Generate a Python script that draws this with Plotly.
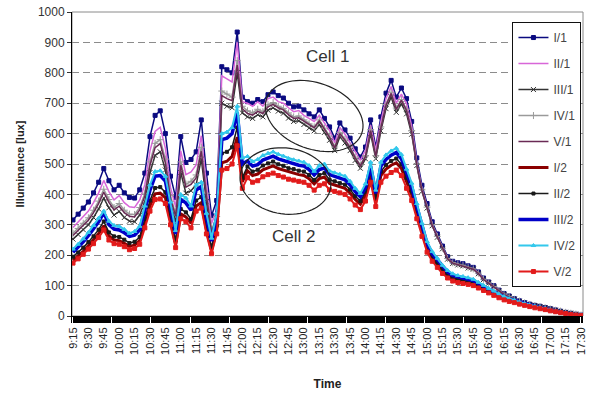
import math
import plotly.graph_objects as go

# ---- time axis: minutes after midnight, 5-minute samples 9:15 .. 17:30
MINUTES = list(range(555, 1051, 5))
TICK_LABELS = ["9:15", "9:30", "9:45", "10:00", "10:15", "10:30", "10:45", "11:00",
               "11:15", "11:30", "11:45", "12:00", "12:15", "12:30", "12:45", "13:00",
               "13:15", "13:30", "13:45", "14:00", "14:15", "14:30", "14:45", "15:00",
               "15:15", "15:30", "15:45", "16:00", "16:15", "16:30", "16:45", "17:00",
               "17:15", "17:30"]
TICK_VALS = [555 + 15 * i for i in range(len(TICK_LABELS))]

# ---- illuminance [lux]
I_1 = [316, 335, 355, 375, 405, 440, 485, 445, 415, 430, 405, 390, 388, 415, 470, 590, 660, 675, 600, 460,
       390, 590, 505, 515, 540, 645, 470, 330, 380, 820, 810, 800, 934, 720, 705, 700, 712, 705, 728, 737,
       725, 717, 700, 688, 690, 678, 665, 655, 678, 650, 622, 585, 635, 612, 585, 550, 523, 556, 645, 556,
       655, 733, 775, 720, 750, 715, 640, 520, 430, 370, 310, 270, 230, 195, 180, 175, 172, 165, 160, 145,
       125, 112, 100, 85, 74, 66, 57, 50, 44, 39, 35, 32, 28, 24, 20, 16, 12, 9, 6, 3]
II_1 = [291, 308, 327, 345, 373, 405, 446, 409, 382, 396, 373, 359, 357, 382, 432, 543, 607, 621, 552, 423,
        359, 543, 465, 474, 497, 593, 432, 304, 350, 790, 780, 770, 900, 705, 700, 690, 705, 690, 715, 720,
        705, 700, 685, 672, 676, 660, 650, 640, 660, 635, 610, 570, 620, 598, 570, 538, 512, 545, 628, 545,
        640, 715, 755, 700, 730, 698, 625, 505, 418, 360, 302, 263, 224, 190, 176, 171, 168, 161, 156, 141,
        122, 109, 97, 83, 72, 64, 55, 48, 43, 38, 34, 31, 27, 23, 19, 15, 12, 9, 6, 3]
III_1 = [253, 268, 284, 300, 324, 352, 388, 356, 332, 344, 324, 312, 310, 332, 376, 472, 528, 540, 480, 368,
         312, 472, 404, 412, 432, 516, 376, 264, 304, 700, 690, 685, 800, 668, 655, 650, 662, 655, 677, 685,
         674, 667, 651, 640, 642, 630, 618, 609, 630, 604, 578, 544, 590, 569, 544, 512, 486, 517, 600, 517,
         609, 682, 720, 670, 698, 665, 598, 495, 410, 355, 297, 259, 221, 187, 173, 168, 165, 158, 154, 139,
         120, 108, 96, 82, 71, 63, 55, 48, 42, 37, 34, 31, 27, 23, 19, 15, 12, 9, 6, 3]
IV_1 = [272, 288, 305, 323, 348, 378, 417, 383, 357, 370, 348, 335, 334, 357, 404, 507, 568, 580, 516, 396,
        335, 507, 434, 443, 464, 555, 404, 284, 327, 740, 730, 720, 840, 690, 675, 668, 680, 672, 695, 702,
        690, 683, 668, 655, 658, 645, 632, 622, 645, 618, 592, 556, 604, 582, 556, 523, 497, 528, 613, 528,
        622, 696, 736, 684, 712, 680, 610, 500, 415, 358, 300, 262, 223, 189, 175, 170, 167, 160, 155, 141,
        121, 109, 97, 82, 72, 64, 55, 49, 43, 38, 34, 31, 27, 23, 19, 16, 12, 9, 6, 3]
V_1 = [265, 281, 298, 315, 340, 370, 407, 374, 349, 361, 340, 328, 326, 349, 395, 496, 554, 567, 504, 386,
       328, 496, 424, 433, 454, 542, 395, 277, 319, 725, 715, 708, 825, 682, 666, 661, 673, 666, 688, 696,
       685, 678, 662, 650, 652, 641, 628, 619, 641, 614, 588, 553, 600, 578, 553, 520, 494, 525, 610, 525,
       619, 693, 732, 680, 709, 676, 606, 497, 413, 356, 298, 260, 222, 188, 174, 169, 166, 159, 154, 140,
       120, 108, 96, 82, 71, 63, 55, 48, 42, 37, 34, 31, 27, 23, 19, 15, 12, 9, 6, 3]
I_2 = [183, 197, 213, 231, 250, 271, 297, 263, 250, 248, 239, 229, 233, 248, 305, 362, 402, 404, 389, 315,
       236, 336, 326, 305, 362, 373, 284, 215, 284, 504, 509, 525, 588, 441, 478, 462, 467, 481, 488, 494,
       485, 480, 473, 469, 465, 462, 452, 435, 452, 457, 436, 431, 425, 420, 404, 383, 368, 397, 462, 378,
       462, 483, 496, 504, 485, 441, 399, 336, 275, 221, 189, 168, 147, 131, 121, 116, 112, 109, 105, 97,
       88, 80, 71, 63, 56, 50, 46, 41, 37, 33, 28, 25, 22, 18, 15, 12, 8, 5, 3, 1]
II_2 = [195, 209, 225, 243, 262, 284, 311, 275, 262, 260, 251, 240, 244, 260, 319, 380, 421, 424, 407, 330,
        248, 352, 341, 319, 380, 391, 297, 226, 297, 535, 540, 555, 620, 455, 492, 475, 481, 495, 502, 508,
        499, 494, 486, 483, 478, 475, 464, 447, 464, 470, 448, 443, 437, 432, 416, 394, 378, 408, 475, 389,
        475, 497, 510, 518, 499, 454, 410, 346, 283, 229, 196, 175, 153, 137, 126, 121, 118, 114, 110, 101,
        92, 84, 75, 66, 58, 53, 48, 43, 38, 34, 30, 26, 23, 19, 15, 12, 9, 6, 3, 1]
III_2 = [210, 226, 244, 264, 286, 310, 340, 300, 286, 283, 274, 262, 266, 283, 348, 414, 460, 462, 444, 360,
         270, 384, 372, 348, 414, 426, 324, 246, 324, 580, 585, 600, 670, 500, 510, 493, 498, 513, 521, 526,
         517, 512, 504, 500, 496, 493, 482, 464, 482, 487, 465, 459, 454, 448, 431, 409, 392, 423, 493, 403,
         493, 515, 529, 538, 517, 470, 426, 360, 296, 238, 205, 184, 162, 145, 134, 128, 125, 121, 117, 107,
         98, 89, 80, 70, 62, 56, 51, 45, 40, 35, 31, 27, 24, 19, 16, 12, 9, 6, 3, 1]
IV_2 = [220, 236, 254, 275, 298, 322, 345, 312, 298, 295, 285, 272, 278, 295, 362, 431, 475, 478, 460, 375,
        281, 400, 388, 362, 431, 440, 338, 256, 338, 600, 605, 620, 690, 520, 525, 508, 515, 528, 535, 540,
        532, 526, 518, 514, 510, 506, 495, 476, 495, 500, 477, 471, 466, 460, 443, 420, 403, 435, 506, 414,
        506, 530, 543, 552, 531, 483, 437, 370, 305, 245, 212, 190, 167, 150, 139, 133, 130, 126, 121, 111,
        101, 91, 82, 72, 64, 57, 52, 46, 41, 36, 32, 28, 25, 20, 16, 13, 9, 6, 4, 1]
V_2 = [174, 188, 203, 220, 238, 258, 283, 250, 238, 236, 228, 218, 222, 236, 290, 345, 383, 385, 370, 300,
       225, 320, 310, 290, 345, 355, 270, 205, 270, 480, 485, 500, 560, 420, 455, 440, 445, 458, 465, 470,
       462, 457, 450, 447, 443, 440, 430, 414, 430, 435, 415, 410, 405, 400, 385, 365, 350, 378, 440, 360,
       440, 460, 472, 480, 462, 420, 380, 320, 262, 210, 180, 160, 140, 125, 115, 110, 107, 104, 100, 92,
       84, 76, 68, 60, 53, 48, 44, 39, 35, 31, 27, 24, 21, 17, 14, 11, 8, 5, 3, 1]

SERIES_NAMES = ["I/1", "II/1", "III/1", "IV/1", "V/1", "I/2", "II/2", "III/2", "IV/2", "V/2"]
SERIES_VALUES = [I_1, II_1, III_1, IV_1, V_1, I_2, II_2, III_2, IV_2, V_2]

STYLES = [
    dict(color="#0a0a80", width=1.5, symbol="square", msize=4),
    dict(color="#d866d8", width=1.5, symbol=None, msize=0),
    dict(color="#333333", width=1.5, symbol="x-thin-open", msize=5),
    dict(color="#9a9a9a", width=1.5, symbol="cross-thin-open", msize=5),
    dict(color="#6a2a55", width=1.5, symbol=None, msize=0),
    dict(color="#8b0000", width=3, symbol=None, msize=0),
    dict(color="#1a1a1a", width=1.5, symbol="square", msize=3),
    dict(color="#0000c8", width=3.5, symbol=None, msize=0),
    dict(color="#33c8ec", width=2, symbol="triangle-up", msize=4),
    dict(color="#e21b1b", width=2, symbol="square", msize=4),
]

fig = go.Figure()
for name, vals, st in zip(SERIES_NAMES, SERIES_VALUES, STYLES):
    assert len(vals) == len(MINUTES), name
    mode = "lines+markers" if st["symbol"] else "lines"
    kw = dict(marker=dict(symbol=st["symbol"], size=st["msize"], color=st["color"],
                          line=dict(color=st["color"], width=1))) if st["symbol"] else {}
    fig.add_trace(go.Scatter(x=MINUTES, y=vals, name=name, mode=mode, legendgroup=name,
                             line=dict(color=st["color"], width=st["width"]), **kw))

# ---- annotation ellipses (pixel-sized ellipse converted to data units)
PX_PER_MIN = 512 / 495
PX_PER_LUX = 304 / 1000


def ellipse_path(cx, cy, a_px, b_px, angle_deg, n=72):
    th = math.radians(angle_deg)
    pts = []
    for k in range(n + 1):
        u = 2 * math.pi * k / n
        dx = a_px * math.cos(u)
        dy = b_px * math.sin(u)
        rx = dx * math.cos(th) - dy * math.sin(th)
        ry = dx * math.sin(th) + dy * math.cos(th)   # screen y down
        pts.append((cx + rx / PX_PER_MIN, cy - ry / PX_PER_LUX))
    return "M " + " L ".join(f"{x:.2f},{y:.2f}" for x, y in pts) + " Z"


fig.add_shape(type="path", xref="x", yref="y", path=ellipse_path(790, 658, 51, 33, 20),
              line=dict(color="#222222", width=1.2))
fig.add_shape(type="path", xref="x", yref="y", path=ellipse_path(762, 444, 46, 33, 8),
              line=dict(color="#222222", width=1.2))
fig.add_annotation(x=803, y=852, xref="x", yref="y", text="Cell 1", showarrow=False,
                   font=dict(size=17, color="#333333", family="Arial, Liberation Sans"))
fig.add_annotation(x=770, y=263, xref="x", yref="y", text="Cell 2", showarrow=False,
                   font=dict(size=17, color="#333333", family="Arial, Liberation Sans"))

# plot-area border (top / right)
fig.add_shape(type="rect", xref="paper", yref="paper", x0=0, x1=1, y0=0, y1=1,
              line=dict(color="#8a8a8a", width=1), layer="below")

fig.update_layout(
    width=589, height=397,
    margin=dict(l=72, r=2, t=12, b=81),
    paper_bgcolor="white", plot_bgcolor="white",
    font=dict(family="Arial, Liberation Sans", size=12, color="#333333"),
    showlegend=True,
    legend=dict(x=0.997, y=0.967, xanchor="right", yanchor="top",
                bgcolor="white", bordercolor="#111111", borderwidth=1,
                font=dict(size=12, color="#444444"), tracegroupgap=7,
                itemwidth=30),
    xaxis=dict(
        range=[554.03, 1051.93], tickvals=TICK_VALS, ticktext=TICK_LABELS,
        tickangle=-90, tickfont=dict(size=11, color="#222222"),
        ticklabeloverflow="allow",
        ticks="outside", ticklen=6, tickcolor="black", tickwidth=1,
        minor=dict(dtick=1, tick0=555, ticks="outside", ticklen=6, tickcolor="black",
                   tickwidth=1, showgrid=False),
        showline=True, linecolor="black", linewidth=1, showgrid=False, zeroline=False,
        title=dict(text="<b>Time</b>", font=dict(size=12, color="#222222"), standoff=25),
    ),
    yaxis=dict(
        range=[0, 1000], dtick=100, tick0=0,
        ticklabeloverflow="allow",
        ticks="outside", ticklen=4, tickcolor="#333333",
        tickfont=dict(size=12, color="#333333"),
        showline=True, linecolor="black", linewidth=1,
        showgrid=True, gridcolor="#8c8c8c", gridwidth=1, griddash="7px,4px",
        zeroline=False,
        title=dict(text="<b>Illuminance [lux]</b>", font=dict(size=11, color="#222222"),
                   standoff=11),
    ),
)

# remove the browser's default 8 px body margin so the 589x397 figure fills the window exactly
fig.write_html("out.html", config={"displayModeBar": False},
               post_script="document.body.style.margin='0';document.body.style.overflow='hidden';")
